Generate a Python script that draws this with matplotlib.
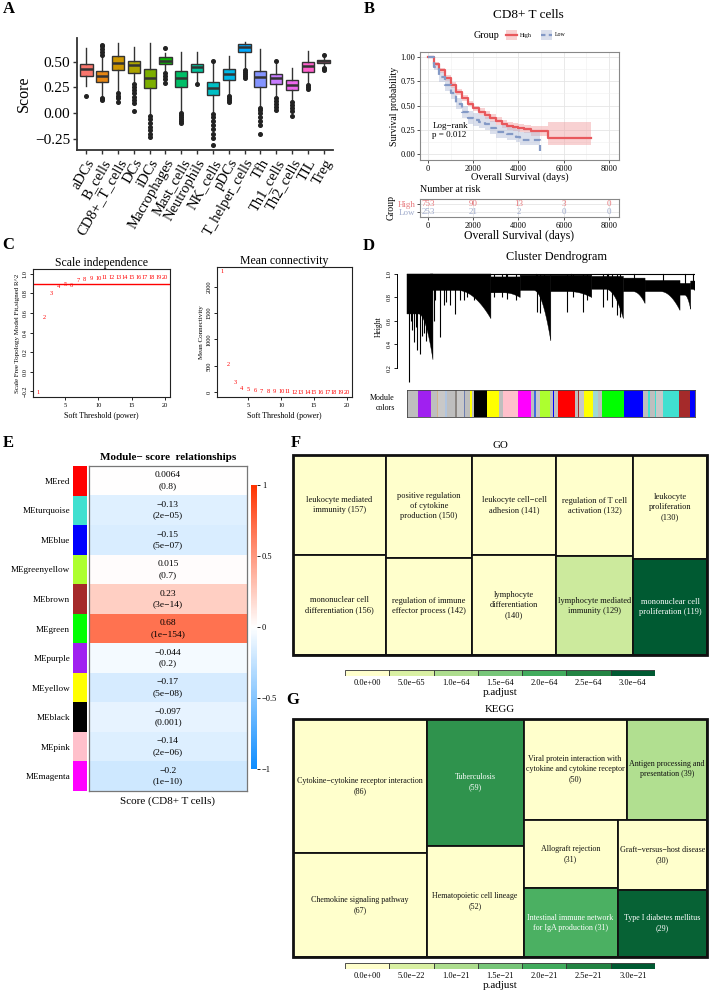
import numpy as np
import matplotlib
matplotlib.use('Agg')
import matplotlib.pyplot as plt
from matplotlib.patches import Rectangle, Polygon
from matplotlib.colors import LinearSegmentedColormap, Normalize
from matplotlib.cm import ScalarMappable

plt.rcParams['font.family'] = ['Liberation Serif', 'DejaVu Serif']
plt.rcParams['axes.unicode_minus'] = True

MINUS = '\u2212'


def um(s):
    return s.replace('-', MINUS)


# ======================= DATA =======================
# --- A: immune cell scores (box summaries) ---
cell_types = ['aDCs', 'B_cells', 'CD8+_T_cells', 'DCs', 'iDCs', 'Macrophages', 'Mast_cells',
              'Neutrophils', 'NK_cells', 'pDCs', 'T_helper_cells', 'Tfh', 'Th1_cells',
              'Th2_cells', 'TIL', 'Treg']
box_q1 = [0.36, 0.30, 0.416, 0.39, 0.243, 0.477, 0.25, 0.40, 0.18, 0.32, 0.59, 0.253, 0.286, 0.227, 0.40, 0.487]
box_med = [0.43, 0.364, 0.487, 0.464, 0.34, 0.51, 0.34, 0.445, 0.243, 0.38, 0.64, 0.35, 0.34, 0.276, 0.455, 0.503]
box_q3 = [0.477, 0.406, 0.552, 0.51, 0.429, 0.542, 0.41, 0.48, 0.305, 0.43, 0.67, 0.406, 0.383, 0.318, 0.50, 0.52]
box_lo = [0.26, 0.16, 0.21, 0.31, -0.016, 0.42, 0.016, 0.29, 0.016, 0.18, 0.43, 0.065, 0.16, 0.13, 0.29, 0.455]
box_hi = [0.633, 0.55, 0.68, 0.64, 0.68, 0.58, 0.59, 0.59, 0.487, 0.55, 0.69, 0.62, 0.487, 0.44, 0.607, 0.545]
box_fliers = [
    [0.17],
    [0.56, 0.59, 0.62, 0.65, 0.66, 0.13, 0.14, 0.15],
    [0.11, 0.15, 0.17, 0.19],
    [0.02, 0.10, 0.13, 0.16, 0.19, 0.22, 0.25, 0.28],
    [-0.03, -0.06, -0.10, -0.14, -0.17, -0.20, -0.23],
    [0.63, 0.29, 0.33, 0.36, 0.39],
    [-0.10, -0.08, -0.06, -0.04, -0.02, 0.0],
    [0.285],
    [0.51, -0.01, -0.04, -0.08, -0.12, -0.16, -0.20, -0.24, -0.31],
    [0.11, 0.13, 0.15, 0.17],
    [0.34, 0.36, 0.38, 0.40, 0.42],
    [-0.20, -0.12, -0.08, -0.04, 0.0, 0.03, 0.05],
    [0.51, 0.03, 0.06, 0.09, 0.12, 0.15],
    [-0.03, 0.02, 0.05, 0.08, 0.11],
    [0.23, 0.25, 0.27],
    [0.56, 0.415, 0.43, 0.44],
]
box_colors = ['#F8766D', '#E68613', '#CD9600', '#ABA300', '#7CAE00', '#0CB702', '#00BE67', '#00C19A',
              '#00BFC4', '#00B8E7', '#00A9FF', '#8494FF', '#C77CFF', '#ED68ED', '#FF61CC', '#FF68A1']
a_yticks = [-0.25, 0.0, 0.25, 0.50]

# --- B: Kaplan-Meier ---
km_high_t = [0, 250, 500, 750, 1000, 1250, 1500, 1750, 2000, 2250, 2500, 2750, 3000, 3250, 3500, 3750, 4000, 4250, 4550, 5300, 7200]
km_high_s = [1, .93, .86, .78, .71, .64, .58, .52, .47, .43, .40, .37, .34, .31, .29, .28, .27, .26, .235, .17, .17]
km_high_lo = [1, .91, .835, .75, .68, .61, .55, .49, .44, .40, .36, .33, .30, .27, .25, .24, .23, .22, .19, .09, .09]
km_high_hi = [1, .95, .885, .81, .74, .67, .61, .55, .50, .47, .44, .41, .38, .35, .33, .32, .31, .30, .29, .33, .33]
km_low_t = [0, 250, 500, 750, 1000, 1250, 1500, 1750, 2000, 2250, 2500, 2750, 3000, 3500, 3900, 4050, 4950]
km_low_s = [1, .90, .79, .71, .63, .52, .43, .37, .35, .33, .31, .27, .23, .21, .18, .15, .03]
km_low_lo = [1, .86, .74, .65, .57, .46, .37, .31, .29, .27, .25, .21, .17, .15, .12, .09, .0]
km_low_hi = [1, .94, .84, .77, .69, .58, .50, .44, .42, .40, .38, .34, .30, .28, .26, .23, .23]
risk_times = [0, 2000, 4000, 6000, 8000]
risk_high = [753, 90, 13, 3, 0]
risk_low = [253, 21, 2, 0, 0]
pval_text = 'Log' + MINUS + 'rank\np = 0.012'

# --- C: soft threshold ---
powers = list(range(1, 21))
sft_r2 = [-0.21, 0.55, 0.80, 0.87, 0.89, 0.875, 0.93, 0.94, 0.95, 0.955, 0.96, 0.96, 0.96, 0.96,
          0.965, 0.965, 0.965, 0.965, 0.965, 0.965]
mean_k = [2280, 520, 185, 80, 45, 28, 18, 13, 10, 8, 6, 5, 4, 3.5, 3, 2.5, 2, 2, 1.5, 1.5]
r2_cut = 0.90

# --- D: dendrogram branch blocks (gene order units) & module colour strip ---
dend_start = [0, 70, 252, 340, 432, 555, 650, 715, 820, 852]
dend_end = [78, 252, 340, 432, 555, 650, 715, 820, 852, 865]
dend_top = [1.0, 1.0, 0.975, 0.99, 0.99, 0.98, 0.965, 0.945, 0.92, 0.94]
dend_dense = [0.66, 0.86, 0.84, 0.86, 0.85, 0.87, 0.85, 0.85, 0.82, 0.87]
dend_tail = [0.27, 0.62, 0.80, 0.43, 0.80, 0.62, 0.75, 0.69, 0.70, 0.86]
spike_x = [5, 12, 15, 22, 27, 30, 38, 45, 52, 58, 80, 85, 98, 110, 118, 130, 145, 160, 170, 180, 200,
           220, 262, 285, 300, 328, 390, 400, 410, 480, 500, 528, 540, 590, 600, 615, 630, 640]
spike_h = [0.08, 0.60, 0.52, 0.42, 0.55, 0.35, 0.32, 0.47, 0.50, 0.43, 0.60, 0.78, 0.46, 0.74, 0.76,
           0.74, 0.66, 0.78, 0.78, 0.80, 0.78, 0.80, 0.80, 0.80, 0.79, 0.78, 0.68, 0.67, 0.80, 0.68,
           0.80, 0.68, 0.78, 0.72, 0.78, 0.72, 0.65, 0.63]
mod_seg_colors = ['#BEBEBE', '#A020F0', '#BEBEBE', '#D2B48C', '#C8C8C8', '#B0C4DE', '#BEBEBE', '#8B8682',
                  '#C8C8C8', '#6E7FB0', '#BEBEBE', '#FFFF00', '#BEBEBE', '#000000', '#FFFF00', '#BEBEBE',
                  '#FFC0CB', '#FF00FF', '#BEBEBE', '#4169E1', '#C8C8C8', '#ADFF2F', '#BEBEBE', '#0000FF',
                  '#C0C0C0', '#FF0000', '#BEBEBE', '#A52A2A', '#C8C8C8', '#FFFF00', '#9ED9D2', '#BEBEBE',
                  '#00FF00', '#0000FF', '#BEBEBE', '#40E0D0', '#BEBEBE', '#40E0D0', '#C8C8C8', '#40E0D0',
                  '#A52A2A', '#0000FF']
mod_seg_widths = [33, 37, 18, 5, 20, 5, 25, 5, 20, 4, 15, 5, 8, 38, 34, 13,
                  45, 38, 10, 4, 13, 30, 8, 3, 12, 50, 10, 4, 13, 27, 14, 14,
                  65, 55, 15, 5, 15, 5, 20, 48, 32, 15]

# --- E: module-trait relationships ---
me_names = ['MEred', 'MEturquoise', 'MEblue', 'MEgreenyellow', 'MEbrown', 'MEgreen', 'MEpurple',
            'MEyellow', 'MEblack', 'MEpink', 'MEmagenta']
me_colors = ['#FF0000', '#40E0D0', '#0000FF', '#ADFF2F', '#A52A2A', '#00FF00', '#A020F0',
             '#FFFF00', '#000000', '#FFC0CB', '#FF00FF']
me_cor = [0.0064, -0.13, -0.15, 0.015, 0.23, 0.68, -0.044, -0.17, -0.097, -0.14, -0.2]
me_p = ['0.8', '2e-05', '5e-07', '0.7', '3e-14', '1e-154', '0.2', '5e-08', '0.001', '2e-06', '1e-10']
e_trait = 'Score (CD8+ T cells)'
e_cbar_ticks = [-1, -0.5, 0, 0.5, 1]

# --- F: GO treemap ---
go_labels = ['leukocyte mediated\nimmunity ({})', 'mononuclear cell\ndifferentiation ({})',
             'positive regulation\nof cytokine\nproduction ({})', 'regulation of immune\neffector process ({})',
             'leukocyte cell' + MINUS + 'cell\nadhesion ({})', 'lymphocyte\ndifferentiation\n({})',
             'regulation of T cell\nactivation ({})', 'lymphocyte mediated\nimmunity ({})',
             'leukocyte\nproliferation\n({})', 'mononuclear cell\nproliferation ({})']
go_counts = [157, 156, 150, 142, 141, 140, 132, 129, 130, 119]
go_padj = [1e-70, 1e-70, 2e-70, 3e-69, 1e-68, 5e-68, 4e-68, 6.5e-65, 6e-68, 3.0e-64]
go_tree = ('h', [('v', [0, 1]), ('v', [2, 3]), ('v', [4, 5]), ('v', [6, 7]), ('v', [8, 9])])
go_cbar_ticks = [0, 5e-65, 1e-64, 1.5e-64, 2e-64, 2.5e-64, 3e-64]

# --- G: KEGG treemap ---
kegg_labels = ['Cytokine' + MINUS + 'cytokine receptor interaction\n({})', 'Chemokine signaling pathway\n({})',
               'Tuberculosis\n({})', 'Hematopoietic cell lineage\n({})',
               'Viral protein interaction with\ncytokine and cytokine receptor\n({})',
               'Antigen processing and\npresentation ({})', 'Allograft rejection\n({})',
               'Intestinal immune network\nfor IgA production ({})',
               'Graft' + MINUS + 'versus' + MINUS + 'host disease\n({})', 'Type I diabetes mellitus\n({})']
kegg_counts = [86, 67, 59, 52, 50, 39, 31, 31, 30, 29]
kegg_padj = [1e-30, 5e-28, 2.3e-21, 2e-25, 1e-27, 0.95e-21, 5e-24, 1.9e-21, 3e-24, 2.9e-21]
kegg_tree = ('h', [('v', [0, 1]), ('v', [2, 3]),
                   ('v', [('h', [4, 5]), ('h', [('v', [6, 7]), ('v', [8, 9])])])])
kegg_cbar_ticks = [0, 5e-22, 1e-21, 1.5e-21, 2e-21, 2.5e-21, 3e-21]

# ======================= FIGURE =======================
W, H = 709, 993
fig = plt.figure(figsize=(W / 100, H / 100), dpi=100)


def axpx(l, t, r, b):
    return fig.add_axes([l / W, 1 - b / H, (r - l) / W, (b - t) / H])


def ftext(x, y, s, **kw):
    return fig.text(x / W, 1 - y / H, s, **kw)


for lab, (x, y) in zip('ABCDEFG', [(9, 9), (369, 9), (8, 245), (369, 246), (8, 443), (296, 443), (293, 700)]):
    ftext(x, y, lab, fontsize=12, fontweight='bold', ha='center', va='center')

# ---------------- A ----------------
axA = axpx(77, 38, 333, 150)
stats = [dict(med=box_med[i], q1=box_q1[i], q3=box_q3[i], whislo=box_lo[i], whishi=box_hi[i],
              fliers=box_fliers[i], label=cell_types[i]) for i in range(len(cell_types))]
bp = axA.bxp(stats, positions=np.arange(1, len(cell_types) + 1), widths=0.78, patch_artist=True,
             showcaps=False,
             boxprops=dict(edgecolor='#333333', linewidth=1.0),
             medianprops=dict(color='#333333', linewidth=1.8),
             whiskerprops=dict(color='#333333', linewidth=1.0),
             flierprops=dict(marker='o', markerfacecolor='#222222', markeredgecolor='#222222',
                             markersize=2.6, linestyle='none'))
for patch, c in zip(bp['boxes'], box_colors):
    patch.set_facecolor(c)
axA.set_xlim(0.4, len(cell_types) + 0.6)
axA.set_ylim(-0.36, 0.73)
axA.set_yticks(a_yticks)
axA.set_yticklabels([um(f'{v:.2f}') for v in a_yticks], fontsize=11)
axA.set_xticks(np.arange(1, len(cell_types) + 1))
axA.set_xticklabels(cell_types, rotation=60, ha='right', rotation_mode='anchor', fontsize=10.5)
axA.set_ylabel('Score', fontsize=11.5, labelpad=2)
for s in ['top', 'right']:
    axA.spines[s].set_visible(False)
for s in ['left', 'bottom']:
    axA.spines[s].set_linewidth(1.3)
    axA.spines[s].set_color('#333333')
axA.tick_params(length=3, width=1, color='#333333', pad=2)

# ---------------- B ----------------
axB = axpx(420, 52, 619, 160)
c_hi, c_lo = '#E8585C', '#8399C6'
axB.fill_between(km_high_t, km_high_lo, km_high_hi, step='post', color='#F19A9C', alpha=0.45, lw=0)
axB.fill_between(km_low_t, km_low_lo, km_low_hi, step='post', color='#AFBAD6', alpha=0.45, lw=0)
axB.step(km_high_t, km_high_s, where='post', color=c_hi, lw=1.6)
axB.step(km_low_t, km_low_s, where='post', color=c_lo, lw=1.6, ls=(0, (3, 2)))
axB.set_xlim(-350, 8440)
axB.set_ylim(-0.06, 1.05)
axB.set_xticks(risk_times)
axB.set_xticks([1000, 3000, 5000, 7000], minor=True)
axB.set_yticks([0, 0.25, 0.5, 0.75, 1.0])
axB.set_yticks([0.125, 0.375, 0.625, 0.875], minor=True)
axB.set_yticklabels(['0.00', '0.25', '0.50', '0.75', '1.00'], fontsize=6)
axB.set_xticklabels([str(t) for t in risk_times], fontsize=6)
axB.grid(which='major', color='#E5E5E5', lw=0.6)
axB.grid(which='minor', color='#F0F0F0', lw=0.4)
axB.set_axisbelow(True)
axB.tick_params(which='major', length=2, width=0.6, color='#333333', pad=1.5)
axB.tick_params(which='minor', length=0)
for s in axB.spines.values():
    s.set_color('#888888'); s.set_linewidth(0.8)
axB.set_xlabel('Overall Survival (days)', fontsize=7.5, labelpad=0)
axB.set_ylabel('Survival probability', fontsize=7, labelpad=1)
axB.text(200, 0.245, pval_text, fontsize=6.5, ha='left', va='center', linespacing=1.2)
ftext(528, 15, 'CD8+ T cells', fontsize=9.5, ha='center', va='center')
ftext(486, 35, 'Group', fontsize=7.3, ha='center', va='center')
axL = axpx(500, 29, 600, 41)
axL.set_xlim(500, 600); axL.set_ylim(41, 29); axL.axis('off')
axL.add_patch(Rectangle((506, 30), 11, 10, color='#F19A9C', alpha=0.45, lw=0))
axL.plot([506, 517], [35, 35], color=c_hi, lw=1.6)
axL.add_patch(Rectangle((541, 30), 11, 10, color='#AFBAD6', alpha=0.45, lw=0))
axL.plot([541, 552], [35, 35], color=c_lo, lw=1.6, ls=(0, (2, 1.5)))
axL.text(520, 35, 'High', fontsize=4.2, va='center')
axL.text(555, 35, 'Low', fontsize=4.2, va='center')

axR = axpx(420, 199, 619, 217)
axR.set_xlim(-350, 8440)
axR.set_ylim(-0.6, 1.6)
for t, h, l in zip(risk_times, risk_high, risk_low):
    axR.text(t, 1, str(h), color='#E77A7E', fontsize=6.5, ha='center', va='center')
    axR.text(t, 0, str(l), color='#9FAACB', fontsize=6.5, ha='center', va='center')
axR.set_yticks([1, 0])
axR.set_yticklabels(['High', 'Low'], fontsize=6.5)
for tl, c in zip(axR.get_yticklabels(), ['#E77A7E', '#9FAACB']):
    tl.set_color(c)
axR.set_xticks(risk_times)
axR.set_xticklabels([str(t) for t in risk_times], fontsize=6)
axR.grid(color='#E5E5E5', lw=0.6)
axR.set_axisbelow(True)
axR.tick_params(length=2, width=0.6, color='#333333', pad=1.5)
for s in axR.spines.values():
    s.set_color('#888888'); s.set_linewidth(0.8)
axR.set_ylabel('Group', fontsize=7, labelpad=1)
axR.set_xlabel('Overall Survival (days)', fontsize=8.5, labelpad=0)
ftext(420, 190, 'Number at risk', fontsize=7.2, ha='left', va='center')


# ---------------- C ----------------
def rpad(vals, f=0.04):
    lo, hi = min(vals), max(vals)
    r = hi - lo
    return lo - f * r, hi + f * r


def base_style(ax):
    for s in ax.spines.values():
        s.set_linewidth(0.8); s.set_color('#222222')
    ax.tick_params(length=2.5, width=0.6, labelsize=4.6, pad=1.5)


axC1 = axpx(33, 269, 170, 397)
for p, v in zip(powers, sft_r2):
    axC1.text(p, v, str(p), color='red', fontsize=4.6, ha='center', va='center')
axC1.axhline(r2_cut, color='red', lw=1.0)
axC1.set_xlim(*rpad(powers))
axC1.set_ylim(*rpad(sft_r2 + [1.0]))
axC1.set_xticks([5, 10, 15, 20])
axC1.set_yticks([-0.2, 0.0, 0.2, 0.4, 0.6, 0.8, 1.0])
axC1.set_yticklabels([um(f'{v:.1f}') for v in [-0.2, 0.0, 0.2, 0.4, 0.6, 0.8, 1.0]], rotation=90, va='center')
base_style(axC1)
axC1.set_title('Scale independence', fontsize=8.5, pad=1.5)
axC1.set_xlabel('Soft Threshold (power)', fontsize=5.8, labelpad=3)
axC1.set_ylabel('Scale Free Topology Model Fit,signed R^2', fontsize=5, labelpad=2)

axC2 = axpx(217, 267, 352, 397)
for p, v in zip(powers, mean_k):
    axC2.text(p, v, str(p), color='red', fontsize=4.6, ha='center', va='center')
axC2.set_xlim(*rpad(powers))
axC2.set_ylim(*rpad(mean_k))
axC2.set_xticks([5, 10, 15, 20])
axC2.set_yticks([0, 500, 1000, 1500, 2000])
axC2.set_yticklabels(['0', '500', '1000', '1500', '2000'], rotation=90, va='center')
base_style(axC2)
axC2.set_title('Mean connectivity', fontsize=8.5, pad=1.5)
axC2.set_xlabel('Soft Threshold (power)', fontsize=5.8, labelpad=3)
axC2.set_ylabel('Mean Connectivity', fontsize=5, labelpad=2)

# ---------------- D ----------------
axD = axpx(397, 270, 695, 383)
axD.set_xlim(-30, dend_end[-1])
axD.set_ylim(0.072, 1.034)
axD.plot([dend_start[0], dend_end[-1]], [1.0, 1.0], color='black', lw=0.8)
for s0, e0, tp, dn, tl in zip(dend_start, dend_end, dend_top, dend_dense, dend_tail):
    xs = np.linspace(s0, e0, 60)
    u = (xs - s0) / (e0 - s0)
    bot = np.where(u < 0.45, dn, dn - (dn - tl) * ((u - 0.45) / 0.55) ** 2)
    pts = [(s0, tp), (e0, tp)] + list(zip(xs[::-1], bot[::-1]))
    axD.add_patch(Polygon(pts, closed=True, facecolor='black', edgecolor='black', lw=0.3))
    axD.plot([(s0 + e0) / 2] * 2, [tp, 1.0], color='black', lw=0.8)
axD.vlines(spike_x, spike_h, 1.0, color='black', lw=0.8)
for s in ['top', 'right', 'bottom']:
    axD.spines[s].set_visible(False)
axD.spines['left'].set_bounds(0.2, 1.0)
axD.spines['left'].set_linewidth(0.7)
axD.set_xticks([])
axD.set_yticks([0.2, 0.4, 0.6, 0.8, 1.0])
axD.set_yticklabels(['0.2', '0.4', '0.6', '0.8', '1.0'], rotation=90, va='center')
axD.tick_params(length=2.5, width=0.6, labelsize=4.6, pad=1.5)
axD.set_ylabel('Height', fontsize=5.5, labelpad=3)
ftext(557, 257, 'Cluster Dendrogram', fontsize=8.8, ha='center', va='center')

axM = axpx(407, 390, 695, 417)
lefts = np.concatenate([[0], np.cumsum(mod_seg_widths)[:-1]])
axM.barh(0, mod_seg_widths, left=lefts, height=1, color=mod_seg_colors, lw=0)
axM.set_xlim(0, sum(mod_seg_widths))
axM.set_ylim(-0.5, 0.5)
axM.set_xticks([]); axM.set_yticks([])
for s in axM.spines.values():
    s.set_linewidth(0.6); s.set_color('#444444')
ftext(395, 403, 'Module\ncolors', fontsize=5.8, ha='right', va='center', linespacing=1.3)

# ---------------- E ----------------
cmap_e = LinearSegmentedColormap.from_list('bwr_wgcna', ['#0D8CFF', '#FFFFFF', '#FF3300'])
n_me = len(me_names)
axE = axpx(89, 466, 247, 791)
axE.imshow(np.array(me_cor).reshape(-1, 1), cmap=cmap_e, vmin=-1, vmax=1, aspect='auto',
           extent=(0, 1, n_me, 0), interpolation='nearest')
for i, (c, p) in enumerate(zip(me_cor, me_p)):
    axE.text(0.5, i + 0.5, um(str(c)) + '\n(' + um(p) + ')', ha='center', va='center',
             fontsize=6.8, linespacing=1.45)
axE.set_xticks([]); axE.set_yticks([])
for s in axE.spines.values():
    s.set_color('#777777'); s.set_linewidth(0.9)
axE.set_xlabel(e_trait, fontsize=8, labelpad=4)
axE.set_title('Module' + MINUS + ' score  relationships', fontsize=8, fontweight='bold', pad=4)

axS = axpx(73, 466, 87, 791)
axS.barh(np.arange(n_me) + 0.5, 1, height=1, color=me_colors, lw=0)
axS.set_ylim(n_me, 0); axS.set_xlim(0, 1)
axS.set_xticks([])
axS.set_yticks(np.arange(n_me) + 0.5)
axS.set_yticklabels(me_names, fontsize=6.6)
axS.tick_params(length=0, pad=2)
for s in axS.spines.values():
    s.set_visible(False)

caxE = axpx(251, 485, 257, 769)
cbE = fig.colorbar(ScalarMappable(Normalize(-1, 1), cmap_e), cax=caxE)
cbE.set_ticks(e_cbar_ticks)
cbE.set_ticklabels([um(f'{v:g}') for v in e_cbar_ticks])
cbE.outline.set_visible(False)
caxE.tick_params(length=2.5, width=0.6, labelsize=6, pad=1)

# ---------------- F & G treemaps ----------------
cmap_g = LinearSegmentedColormap.from_list('ylgn7', ['#FFFFCC', '#D9F0A3', '#ADDD8E', '#78C679',
                                                      '#41AB5D', '#238443', '#005A32'])


def tsum(node, counts):
    if isinstance(node, int):
        return counts[node]
    return sum(tsum(k, counts) for k in node[1])


def tlayout(node, x0, y0, x1, y1, counts, out):
    if isinstance(node, int):
        out[node] = (x0, y0, x1, y1)
        return
    kind, kids = node
    tots = [tsum(k, counts) for k in kids]
    s = float(sum(tots))
    pos = x0 if kind == 'h' else y0
    for k, t in zip(kids, tots):
        if kind == 'h':
            w = (x1 - x0) * t / s
            tlayout(k, pos, y0, pos + w, y1, counts, out)
        else:
            w = (y1 - y0) * t / s
            tlayout(k, x0, pos, x1, pos + w, counts, out)
        pos += w


def draw_treemap(box, labels, counts, padj, tree, ticks, title, cbar_box, fs):
    ax = axpx(*box)
    ax.set_xlim(0, 1); ax.set_ylim(1, 0); ax.axis('off')
    norm = Normalize(0, ticks[-1])
    rects = {}
    tlayout(tree, 0, 0, 1, 1, counts, rects)
    for i in range(len(labels)):
        x0, y0, x1, y1 = rects[i]
        ax.add_patch(Rectangle((x0, y0), x1 - x0, y1 - y0, facecolor=cmap_g(norm(padj[i])),
                               edgecolor='#111111', lw=1.3))
        tc = 'white' if norm(padj[i]) > 0.55 else '#111111'
        ax.text((x0 + x1) / 2, (y0 + y1) / 2, labels[i].format(counts[i]), ha='center', va='center',
                fontsize=fs, color=tc, linespacing=1.35)
    ax.add_patch(Rectangle((0, 0), 1, 1, fill=False, edgecolor='#111111', lw=2.0, clip_on=False))
    ftext((box[0] + box[2]) / 2, box[1] - 9, title, fontsize=7.8, ha='center', va='center')
    axc = axpx(*cbar_box)
    axc.bar(np.arange(len(ticks)), 1, width=1, color=[cmap_g(norm(v)) for v in ticks],
            edgecolor='#333333', lw=0.6)
    axc.set_xlim(-0.5, len(ticks) - 0.5); axc.set_ylim(0, 1)
    axc.set_yticks([])
    axc.set_xticks(np.arange(len(ticks)))
    axc.set_xticklabels([um(f'{v:.1e}') for v in ticks], fontsize=6)
    axc.tick_params(length=0, pad=2.5)
    for s in axc.spines.values():
        s.set_visible(False)
    axc.set_xlabel('p.adjust', fontsize=8, labelpad=0.5)


draw_treemap((293, 455, 707, 655), go_labels, go_counts, go_padj, go_tree, go_cbar_ticks, 'GO',
             (345, 670, 655, 676), 6.0)
draw_treemap((293, 719, 707, 957), kegg_labels, kegg_counts, kegg_padj, kegg_tree, kegg_cbar_ticks,
             'KEGG', (345, 963, 655, 969), 5.8)

fig.savefig('out.png', dpi=100)
